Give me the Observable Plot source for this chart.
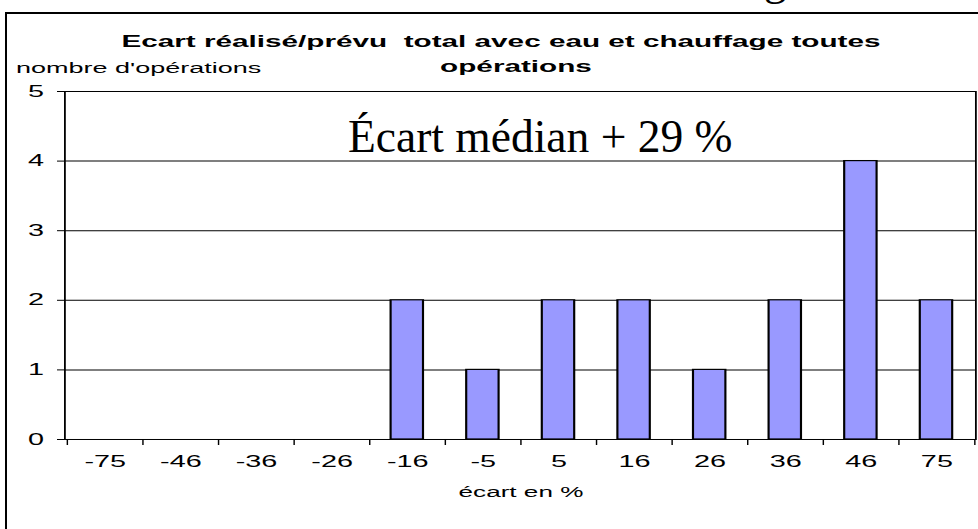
<!DOCTYPE html>
<html><head><meta charset="utf-8">
<script src="https://cdn.jsdelivr.net/npm/d3@7"></script>
<script src="https://cdn.jsdelivr.net/npm/@observablehq/plot@0.6"></script>
<style>
html,body{margin:0;padding:0;background:#fff;overflow:hidden;width:978px;height:529px;}
#stage{position:relative;width:978px;height:529px;overflow:hidden;background:#fff;}
#box{position:absolute;left:5px;top:12px;width:2000px;height:2000px;border-left:2px solid #000;border-top:2px solid #000;}
#chart{position:absolute;left:0;top:0;transform-origin:0 0;}
#overlay{position:absolute;left:0;top:0;}
</style></head><body>
<div id="stage"><div id="box"></div><div id="chart"></div><svg id="overlay" width="978" height="529"></svg></div>
<script>
// ---- data ----
const categories = ["-75","-46","-36","-26","-16","-5","5","16","26","36","46","75"];
const counts = [0,0,0,0,2,1,2,2,1,2,4,2];
const yTicks = [0,1,2,3,4,5];
const gridValues = [1,2,3,4,5];
const titleLines = ["Ecart réalisé/prévu  total avec eau et chauffage toutes","opérations"];
const yLabel = "nombre d'opérations";
const xLabel = "écart en %";
const annotation = "Écart médian + 29 %";

// ---- layout (the chart image is stretched horizontally) ----
const S = 1.8;
const W = 978 / S, H = 529;
const mL = 64 / S, mR = 3 / S, mT = 91, mB = 90;
const step = (W - mL - mR) / categories.length;
const font = "'Liberation Sans', Arial, sans-serif";

const data = categories.map((c, i) => ({cat: c, n: counts[i]}));

const plot = Plot.plot({
  width: W, height: H,
  marginLeft: mL, marginRight: mR, marginTop: mT, marginBottom: mB,
  style: {fontFamily: font, fontSize: "16px", color: "#000", background: "transparent", overflow: "visible"},
  x: {domain: categories, paddingInner: 0.58, paddingOuter: 0.29, label: null},
  y: {domain: [0, 5], label: null},
  marks: [
    Plot.ruleY(gridValues, {stroke: "#000", strokeWidth: 1}),
    Plot.barY(data, {x: "cat", y: "n", fill: "#9999FF", stroke: "#000", strokeWidth: 1.2, filter: d => d.n > 0}),
    Plot.frame({stroke: "#000", strokeWidth: 1}),
    Plot.ruleX(categories, {x: d => d, dx: -step / 2, insetTop: H - mT - mB, insetBottom: -6, stroke: "#000", strokeWidth: 0.8}),
    Plot.ruleX(categories.slice(-1), {x: d => d, dx: step / 2, insetTop: H - mT - mB, insetBottom: -6, stroke: "#000", strokeWidth: 0.8}),
    Plot.axisY({ticks: yTicks, tickSize: 7 / S, tickPadding: 21 / S - 7 / S, fontSize: 16, tickFormat: d => String(d), stroke: "#000", label: null}),
    Plot.axisX({tickSize: 0, tickPadding: 16.5, fontSize: 16, label: null})
  ]
});
plot.style.maxWidth = "none";
const chart = document.getElementById("chart");
chart.style.width = W + "px";
chart.style.transform = `scaleX(${S})`;
chart.appendChild(plot);

const svg = d3.select(plot);
svg.append("text").attr("x", 501 / S).attr("y", 47).attr("text-anchor", "middle")
  .attr("font-family", font).attr("font-weight", "bold").attr("font-size", 16.5).attr("fill", "#000")
  .text(titleLines[0]);
svg.append("text").attr("x", 516 / S).attr("y", 72).attr("text-anchor", "middle")
  .attr("font-family", font).attr("font-weight", "bold").attr("font-size", 16.5).attr("fill", "#000")
  .text(titleLines[1]);
svg.append("text").attr("x", 16 / S).attr("y", 73).attr("text-anchor", "start")
  .attr("font-family", font).attr("font-size", 15).attr("fill", "#000")
  .text(yLabel);
svg.append("text").attr("x", 521 / S).attr("y", 497).attr("text-anchor", "middle")
  .attr("font-family", font).attr("font-size", 14.5).attr("fill", "#000")
  .text(xLabel);

const ov = d3.select("#overlay");
ov.append("text").attr("x", 348).attr("y", 152)
  .attr("font-family", "'Liberation Serif', 'Times New Roman', serif").attr("font-size", 45.5).attr("fill", "#000")
  .text(annotation);
ov.append("text").attr("x", 764).attr("y", -5)
  .attr("font-family", "'Liberation Serif', 'Times New Roman', serif").attr("font-size", 45).attr("fill", "#000")
  .text("g");
</script>
</body></html>
